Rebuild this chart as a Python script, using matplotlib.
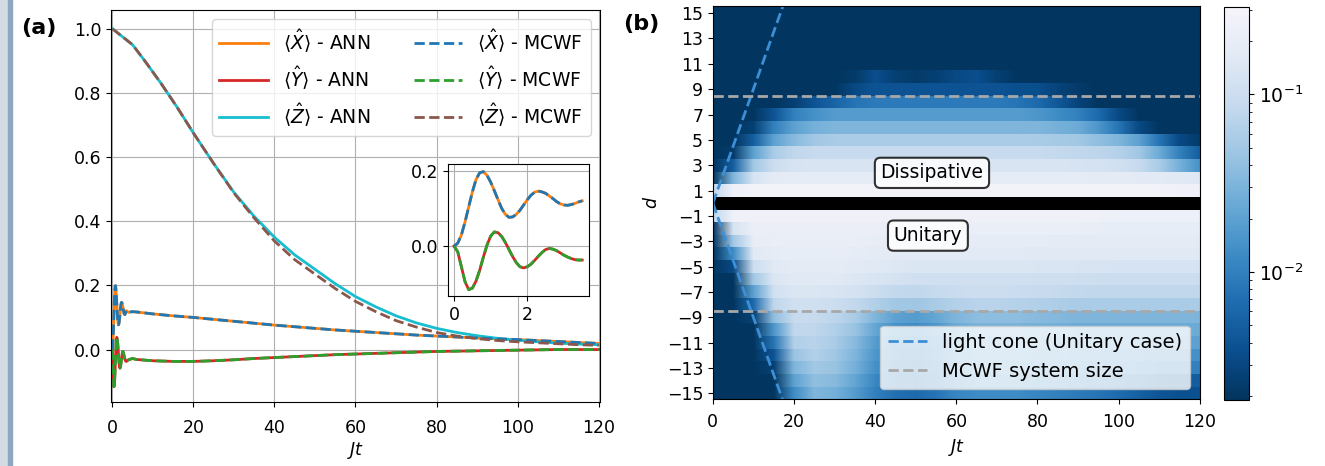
import numpy as np
import matplotlib
matplotlib.use("Agg")
import matplotlib.pyplot as plt
from matplotlib.colors import LogNorm, LinearSegmentedColormap
from matplotlib.cm import ScalarMappable
from matplotlib.patches import Rectangle

plt.rcParams['font.size'] = 12.5

# ---- (a) spin expectation values ----
# early oscillations (also shown in the inset)
t_early = [0.0, 0.1, 0.2, 0.3, 0.4, 0.5, 0.6, 0.7, 0.8, 0.9, 1.0, 1.1,
           1.2, 1.3, 1.4, 1.5, 1.6, 1.7, 1.8, 1.9, 2.0, 2.1, 2.2, 2.3,
           2.4, 2.5, 2.6, 2.7, 2.8, 2.9, 3.0, 3.1, 3.2, 3.3, 3.4, 3.5]
x_early = [0.0, 0.008, 0.03, 0.065, 0.105, 0.145, 0.178, 0.196, 0.199, 0.189, 0.171, 0.148,
           0.124, 0.101, 0.085, 0.077, 0.078, 0.085, 0.096, 0.110, 0.124, 0.136, 0.144, 0.147,
           0.145, 0.141, 0.134, 0.127, 0.119, 0.113, 0.110, 0.109, 0.111, 0.114, 0.118, 0.121]
y_early = [0.0, -0.015, -0.055, -0.095, -0.116, -0.112, -0.093, -0.064, -0.029, 0.003, 0.027, 0.038,
           0.036, 0.026, 0.010, -0.009, -0.028, -0.044, -0.055, -0.058, -0.055, -0.048, -0.038, -0.027,
           -0.017, -0.009, -0.006, -0.008, -0.012, -0.018, -0.024, -0.029, -0.033, -0.036, -0.037, -0.037]

t_late = [4, 5, 6, 8, 10, 15, 20, 25, 30, 35, 40, 45, 50, 55, 60, 65, 70, 75, 80,
          85, 90, 95, 100, 105, 110, 115, 120]
x_late = [0.116, 0.118, 0.117, 0.114, 0.111, 0.105, 0.100, 0.094, 0.088, 0.082, 0.076,
          0.071, 0.066, 0.061, 0.057, 0.053, 0.049, 0.045, 0.042, 0.039, 0.036, 0.033,
          0.031, 0.028, 0.025, 0.022, 0.019]
y_late = [-0.032, -0.028, -0.031, -0.033, -0.035, -0.037, -0.037, -0.035, -0.032, -0.028,
          -0.025, -0.022, -0.019, -0.016, -0.014, -0.012, -0.010, -0.008, -0.006, -0.005,
          -0.004, -0.003, -0.002, -0.001, 0.0, 0.0, 0.0]

t_z = [0, 2, 5, 8, 12, 16, 20, 25, 30, 35, 40, 45, 50, 55, 60, 65, 70, 75, 80, 85,
       90, 95, 100, 105, 110, 115, 120]
z_ann = [1.0, 0.98, 0.95, 0.90, 0.83, 0.755, 0.675, 0.58, 0.49, 0.415, 0.35, 0.295,
         0.25, 0.205, 0.165, 0.133, 0.105, 0.083, 0.066, 0.053, 0.043, 0.035, 0.029,
         0.024, 0.02, 0.017, 0.015]
z_mcwf = [1.0, 0.98, 0.95, 0.90, 0.83, 0.755, 0.675, 0.58, 0.488, 0.41, 0.338, 0.28,
          0.235, 0.19, 0.15, 0.118, 0.09, 0.07, 0.053, 0.042, 0.034, 0.028, 0.024,
          0.021, 0.018, 0.015, 0.013]

# ---- (b) correlation spreading, log10 of the values, columns Jt = 0,5,...,120 ----
dk = -2.7
t_cells = np.arange(0, 125, 5)
heat_up = [  # d = 1 .. 15 (dissipative)
    [-1.1, -0.6, -0.55, -0.55, -0.55, -0.55, -0.55, -0.55, -0.55, -0.55, -0.55, -0.55, -0.55,
     -0.55, -0.55, -0.55, -0.55, -0.55, -0.55, -0.55, -0.55, -0.55, -0.56, -0.57, -0.58],
    [dk, -1.5, -0.9, -0.75, -0.72, -0.72, -0.72, -0.72, -0.72, -0.72, -0.72, -0.72, -0.72,
     -0.72, -0.72, -0.72, -0.72, -0.73, -0.73, -0.74, -0.75, -0.76, -0.78, -0.8, -0.82],
    [dk, -2.3, -1.3, -1.0, -0.9, -0.88, -0.88, -0.88, -0.88, -0.88, -0.88, -0.88, -0.88,
     -0.88, -0.88, -0.88, -0.88, -0.88, -0.9, -0.92, -0.95, -1.05, -1.25, -1.55, -1.85],
    [dk, -2.65, -1.7, -1.25, -1.1, -1.05, -1.05, -1.05, -1.05, -1.05, -1.05, -1.05, -1.05,
     -1.05, -1.05, -1.05, -1.05, -1.07, -1.1, -1.12, -1.18, -1.3, -1.6, -2.0, -2.3],
    [dk, dk, -2.3, -1.7, -1.45, -1.3, -1.25, -1.25, -1.25, -1.25, -1.25, -1.25, -1.25,
     -1.25, -1.25, -1.25, -1.25, -1.27, -1.3, -1.4, -1.5, -1.7, -2.1, -2.5, -2.65],
    [dk, dk, -2.6, -2.0, -1.7, -1.55, -1.5, -1.5, -1.5, -1.5, -1.5, -1.5, -1.5,
     -1.5, -1.5, -1.5, -1.5, -1.55, -1.6, -1.8, -2.1, -2.5, dk, dk, dk],
    [dk, dk, dk, -2.4, -2.0, -1.85, -1.75, -1.75, -1.75, -1.75, -1.75, -1.75, -1.75,
     -1.75, -1.75, -1.75, -1.8, -1.9, -2.0, -2.2, -2.5, dk, dk, dk, dk],
    [dk, dk, dk, dk, -2.6, -2.4, -2.25, -2.1, -2.05, -2.05, -2.05, -2.05, -2.05,
     -2.05, -2.05, -2.1, -2.2, -2.35, -2.55, dk, dk, dk, dk, dk, dk],
    [dk, dk, dk, dk, dk, dk, dk, -2.5, -2.4, -2.4, -2.4, -2.4, -2.4,
     -2.4, -2.4, -2.45, -2.45, -2.55, -2.65, dk, dk, dk, dk, dk, dk],
    [dk, dk, dk, dk, dk, dk, dk, -2.65, -2.45, -2.6, -2.65, -2.6, -2.5,
     -2.45, -2.6, dk, dk, dk, dk, dk, dk, dk, dk, dk, dk],
    [dk] * 25,
    [dk] * 25,
    [dk] * 25,
    [dk] * 25,
    [dk] * 25,
]
heat_down = [  # d = -1 .. -15 (unitary)
    [-1.1, -0.6, -0.6, -0.6, -0.6, -0.6, -0.6, -0.6, -0.6, -0.6, -0.6, -0.6, -0.6,
     -0.6, -0.6, -0.6, -0.6, -0.6, -0.6, -0.6, -0.62, -0.62, -0.62, -0.62, -0.62],
    [dk, -0.9, -0.65, -0.65, -0.65, -0.65, -0.65, -0.65, -0.65, -0.65, -0.66, -0.67, -0.68,
     -0.68, -0.68, -0.68, -0.68, -0.68, -0.68, -0.7, -0.7, -0.7, -0.7, -0.7, -0.7],
    [dk, -1.3, -0.7, -0.68, -0.68, -0.68, -0.68, -0.68, -0.7, -0.7, -0.72, -0.72, -0.73,
     -0.73, -0.73, -0.73, -0.73, -0.74, -0.74, -0.75, -0.75, -0.75, -0.75, -0.75, -0.75],
    [dk, -1.9, -0.8, -0.72, -0.7, -0.7, -0.7, -0.72, -0.74, -0.76, -0.78, -0.78, -0.78,
     -0.78, -0.78, -0.78, -0.8, -0.8, -0.8, -0.8, -0.8, -0.8, -0.8, -0.8, -0.8],
    [dk, -2.5, -1.0, -0.8, -0.75, -0.75, -0.75, -0.77, -0.8, -0.83, -0.85, -0.85, -0.85,
     -0.85, -0.85, -0.85, -0.86, -0.87, -0.88, -0.88, -0.9, -0.9, -0.9, -0.9, -0.9],
    [dk, dk, -1.3, -0.85, -0.8, -0.8, -0.8, -0.83, -0.88, -0.92, -0.95, -0.95, -0.95,
     -0.95, -0.95, -0.95, -0.96, -0.97, -0.98, -1.0, -1.0, -1.0, -1.0, -1.0, -1.0],
    [dk, dk, -1.7, -0.95, -0.85, -0.85, -0.88, -0.92, -1.0, -1.08, -1.1, -1.05, -1.02,
     -1.0, -1.0, -1.02, -1.04, -1.06, -1.08, -1.1, -1.1, -1.1, -1.1, -1.1, -1.1],
    [dk, dk, -2.2, -1.1, -0.95, -0.95, -1.0, -1.08, -1.2, -1.3, -1.32, -1.25, -1.18,
     -1.15, -1.15, -1.17, -1.2, -1.22, -1.25, -1.25, -1.25, -1.25, -1.25, -1.25, -1.25],
    [dk, dk, -2.6, -1.4, -1.05, -1.05, -1.12, -1.25, -1.5, -1.7, -1.75, -1.65, -1.5,
     -1.42, -1.42, -1.42, -1.45, -1.47, -1.5, -1.5, -1.5, -1.5, -1.5, -1.5, -1.5],
    [dk, dk, dk, -1.8, -1.1, -1.1, -1.2, -1.35, -1.65, -1.85, -1.9, -1.8, -1.6,
     -1.52, -1.52, -1.52, -1.55, -1.57, -1.6, -1.6, -1.6, -1.6, -1.6, -1.6, -1.6],
    [dk, dk, dk, -2.1, -1.2, -1.15, -1.25, -1.45, -1.75, -1.95, -2.0, -1.9, -1.7,
     -1.62, -1.62, -1.62, -1.64, -1.66, -1.68, -1.68, -1.68, -1.68, -1.7, -1.7, -1.7],
    [dk, dk, dk, -2.4, -1.35, -1.2, -1.3, -1.5, -1.8, -2.0, -2.05, -1.95, -1.75,
     -1.67, -1.67, -1.67, -1.7, -1.72, -1.75, -1.78, -1.8, -1.82, -1.85, -1.85, -1.85],
    [dk, dk, dk, -2.6, -1.5, -1.3, -1.35, -1.55, -1.85, -2.05, -2.1, -2.0, -1.8,
     -1.72, -1.72, -1.72, -1.75, -1.78, -1.82, -1.85, -1.88, -1.92, -1.97, -2.0, -2.0],
    [dk, dk, dk, dk, -1.7, -1.4, -1.45, -1.65, -1.95, -2.1, -2.15, -2.05, -1.9,
     -1.82, -1.82, -1.82, -1.86, -1.9, -1.95, -2.0, -2.08, -2.15, -2.25, -2.3, -2.3],
    [dk, dk, dk, dk, -1.9, -1.5, -1.55, -1.75, -2.0, -2.15, -2.2, -2.1, -1.95,
     -1.9, -1.9, -1.9, -1.95, -2.0, -2.05, -2.1, -2.18, -2.28, -2.38, -2.42, -2.42],
]
cone_t = [0, 17.2]
cone_d = [0, 15.5]
system_edge = 8.5

fig = plt.figure(figsize=(13.25, 4.66), dpi=100)

# slide border on the left
fig.patches.append(Rectangle((0, 0), 8 / 1325, 1, transform=fig.transFigure,
                             color='#d3dbe5', zorder=0))
fig.patches.append(Rectangle((8 / 1325, 0), 4 / 1325, 1, transform=fig.transFigure,
                             color='#8fa6c1', zorder=0))

# PANEL (a)
ax1 = fig.add_axes([0.0838, 0.1373, 0.369, 0.8412])
t_xy = t_early + t_late
x_all = x_early + x_late
y_all = y_early + y_late
lw = 2
ax1.plot(t_xy, x_all, color='tab:orange', lw=lw, label=r'$\langle\hat{X}\rangle$ - ANN')
ax1.plot(t_xy, y_all, color='tab:red', lw=lw, label=r'$\langle\hat{Y}\rangle$ - ANN')
ax1.plot(t_z, z_ann, color='tab:cyan', lw=lw, label=r'$\langle\hat{Z}\rangle$ - ANN')
ax1.plot(t_xy, x_all, '--', color='tab:blue', lw=lw, label=r'$\langle\hat{X}\rangle$ - MCWF')
ax1.plot(t_xy, y_all, '--', color='tab:green', lw=lw, label=r'$\langle\hat{Y}\rangle$ - MCWF')
ax1.plot(t_z, z_mcwf, '--', color='tab:brown', lw=lw, label=r'$\langle\hat{Z}\rangle$ - MCWF')
ax1.set_xlim(-0.3, 120.3)
ax1.set_ylim(-0.1636, 1.058)
ax1.set_xticks(range(0, 121, 20))
ax1.set_yticks([0.0, 0.2, 0.4, 0.6, 0.8, 1.0])
ax1.tick_params(axis='x', pad=9)
ax1.grid(True)
ax1.set_xlabel(r'$Jt$', labelpad=2)
ax1.legend(ncol=2, loc='upper right', handlelength=2.6, columnspacing=2.3, fontsize=13.5)

ins = fig.add_axes([0.338, 0.3648, 0.1064, 0.283])
ins.plot(t_early, x_early, color='tab:orange', lw=lw)
ins.plot(t_early, y_early, color='tab:red', lw=lw)
ins.plot(t_early, x_early, '--', color='tab:blue', lw=lw)
ins.plot(t_early, y_early, '--', color='tab:green', lw=lw)
ins.set_xlim(-0.17, 3.68)
ins.set_ylim(-0.133, 0.219)
ins.set_xticks([0, 2])
ins.set_yticks([0.0, 0.2])
ins.grid(True)

fig.text(0.029, 0.94, '(a)', fontsize=16, fontweight='bold', ha='center', va='center')

# PANEL (b)
ax2 = fig.add_axes([0.538, 0.1448, 0.3675, 0.842])
cmap = LinearSegmentedColormap.from_list(
    'blues_video', ['#02345d', '#0a4f8f', '#1f6db0', '#3f8dc6', '#6aaad6',
                    '#9cc5e3', '#c6daee', '#e2eaf5', '#f5f4fa'])
cmap.set_bad('black')
norm = LogNorm(vmin=0.0019, vmax=0.31)


def draw_row(d, row):
    ax2.imshow(10.0 ** np.array([row]), cmap=cmap, norm=norm, aspect='auto',
               interpolation='bilinear', interpolation_stage='rgba', origin='lower',
               extent=[t_cells[0] - 2.5, t_cells[-1] + 2.5, d - 0.5, d + 0.5])


for i, row in enumerate(heat_up):
    draw_row(i + 1, row)
for i, row in enumerate(heat_down):
    draw_row(-(i + 1), row)
draw_row(0, [np.nan] * len(t_cells))

ax2.plot(cone_t, cone_d, '--', color='#3d8fd6', lw=2, label='light cone (Unitary case)')
ax2.plot(cone_t, [-v for v in cone_d], '--', color='#3d8fd6', lw=2)
ax2.axhline(system_edge, ls='--', color='#a8a8a8', lw=2, label='MCWF system size')
ax2.axhline(-system_edge, ls='--', color='#a8a8a8', lw=2)

box = dict(boxstyle='round,pad=0.3', fc='white', ec='black', lw=1.5, alpha=0.8)
ax2.text(54, 2.4, 'Dissipative', ha='center', va='center', fontsize=13.5, bbox=box)
ax2.text(53, -2.55, 'Unitary', ha='center', va='center', fontsize=13.5, bbox=box)

ax2.set_xlim(0, 120)
ax2.set_ylim(-15.4, 15.55)
ax2.set_xticks(range(0, 121, 20))
ax2.set_yticks(range(-15, 16, 2))
ax2.tick_params(axis='x', pad=7)
ax2.set_xlabel(r'$Jt$', labelpad=4)
ax2.set_ylabel(r'$d$')
ax2.legend(loc='lower right', fontsize=14)

cax = fig.add_axes([0.9238, 0.1416, 0.0189, 0.843])
cb = fig.colorbar(ScalarMappable(norm=norm, cmap=cmap), cax=cax)
cb.ax.tick_params(labelsize=13.5)

fig.text(0.4838, 0.9485, '(b)', fontsize=16, fontweight='bold', ha='center', va='center')

fig.savefig('out.png', dpi=100)
